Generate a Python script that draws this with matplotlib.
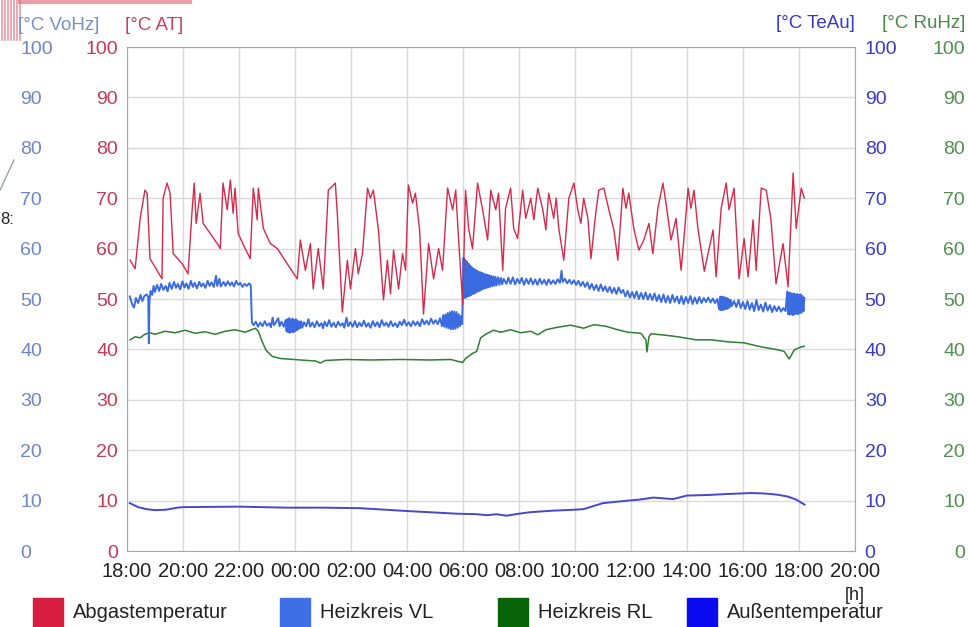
import matplotlib.pyplot as plt
from matplotlib.patches import Rectangle
from matplotlib.lines import Line2D

plt.rcParams['font.family'] = ['Liberation Sans', 'DejaVu Sans']

# hours since 18:00 of the first day
ag_t = [0.11, 0.29, 0.47, 0.64, 0.72, 0.82, 1.07, 1.25, 1.29, 1.43, 1.54, 1.65, 1.97, 2.18, 2.33, 2.40,
        2.47, 2.61, 2.72, 2.97, 3.26, 3.33, 3.43, 3.58, 3.69, 3.79, 3.86, 3.97, 4.22, 4.40, 4.51, 4.65,
        4.69, 4.87, 5.12, 5.37, 5.72, 6.08, 6.19, 6.37, 6.55, 6.65, 6.83, 7.01, 7.19, 7.44, 7.51, 7.69,
        7.87, 7.98, 8.16, 8.26, 8.41, 8.59, 8.69, 8.80, 8.98, 9.16, 9.30, 9.41, 9.52, 9.70, 9.84, 9.95,
        10.05, 10.20, 10.30, 10.45, 10.59, 10.77, 10.95, 11.13, 11.27, 11.45, 11.63, 11.74, 11.84, 11.99,
        12.09, 12.20, 12.34, 12.52, 12.70, 12.88, 12.99, 13.17, 13.27, 13.42, 13.52, 13.70, 13.81, 13.95,
        14.13, 14.24, 14.42, 14.53, 14.67, 14.85, 14.96, 15.06, 15.24, 15.33, 15.42, 15.60, 15.78, 15.96,
        16.10, 16.21, 16.31, 16.46, 16.57, 16.74, 16.85, 17.03, 17.21, 17.39, 17.53, 17.71, 17.82, 17.92,
        18.10, 18.28, 18.46, 18.64, 18.78, 18.96, 19.14, 19.25, 19.43, 19.61, 19.79, 19.89, 20.04, 20.14,
        20.25, 20.39, 20.62, 20.93, 21.04, 21.22, 21.40, 21.50, 21.68, 21.86, 22.04, 22.18, 22.36, 22.47,
        22.65, 22.83, 23.00, 23.18, 23.43, 23.61, 23.79, 23.90, 24.08, 24.19]
ag_v = [57.7, 56, 66, 71.6, 71, 58, 55.7, 54, 70, 73, 71, 59, 57, 55, 68, 73,
        65, 71, 65, 63, 60.7, 60, 73, 67.7, 73.6, 67, 72, 63, 60, 58, 72, 65.7,
        72, 64, 61, 60, 57, 54, 61.7, 55.7, 61, 52, 60, 52, 71.6, 73, 67, 47.4,
        57.7, 52, 60, 55, 59, 72, 70, 71.6, 63.7, 49.8, 57.7, 51, 59.7, 52, 59, 55.7,
        72.6, 69, 71, 63.7, 47, 61, 54, 60, 55.7, 72, 67.7, 71.6, 62, 49,
        71.6, 64, 60, 73, 67.7, 61.7, 71.6, 67.7, 71, 55.7, 68, 72, 64, 62,
        71.6, 66, 70, 65.7, 72, 67.7, 63.7, 71, 66, 70, 64, 57.7, 70, 73,
        67.7, 65, 70, 66, 58, 67, 71.6, 72, 67.7, 63.7, 57.7, 72, 68, 71,
        64, 59.7, 61.7, 65, 59, 68, 73, 69, 61.7, 66, 55.7, 62, 72, 68,
        71.6, 64, 55.5, 63.7, 54.4, 68, 73, 67.7, 72, 54, 62, 54.4, 65.7, 55.7,
        72, 71.6, 65.7, 53, 61, 52.4, 75, 64, 72, 70]

vl_t = [0.10, 0.18, 0.25, 0.32, 0.40, 0.48, 0.55, 0.62, 0.70, 0.76, 0.78, 0.80, 0.84, 0.90, 0.95, 1.00,
        1.07, 1.15, 1.22, 1.30, 1.38, 1.45, 1.52, 1.60, 1.68, 1.75, 1.82, 1.90, 1.98, 2.05, 2.12, 2.20,
        2.28, 2.35, 2.42, 2.50, 2.58, 2.65, 2.72, 2.80, 2.88, 2.95, 3.02, 3.10, 3.18, 3.22, 3.30, 3.35,
        3.45, 3.52, 3.60, 3.68, 3.75, 3.82, 3.90, 3.98, 4.05, 4.12, 4.20, 4.28, 4.36, 4.42, 4.46, 4.52,
        4.60, 4.68, 4.76, 4.84, 4.92, 5.00, 5.08, 5.14, 5.20, 5.25, 5.32, 5.40, 5.45, 5.52, 5.60, 5.66,
        5.70, 5.73, 5.76, 5.79, 5.82, 5.85, 5.88, 5.91, 5.94, 5.97, 6.00, 6.03, 6.06, 6.09, 6.12, 6.15,
        6.18, 6.22, 6.26, 6.32, 6.40, 6.48, 6.54, 6.62, 6.70, 6.78, 6.86, 6.94, 7.00, 7.06, 7.14, 7.22,
        7.30, 7.38, 7.46, 7.54, 7.62, 7.70, 7.76, 7.84, 7.90, 7.98, 8.06, 8.14, 8.22, 8.30, 8.38, 8.46,
        8.54, 8.62, 8.70, 8.78, 8.86, 8.94, 9.02, 9.10, 9.18, 9.26, 9.34, 9.42, 9.50, 9.58, 9.66, 9.74,
        9.82, 9.90, 9.98, 10.06, 10.14, 10.22, 10.30, 10.38, 10.46, 10.54, 10.62, 10.70, 10.78, 10.86,
        10.94, 11.02, 11.10, 11.18, 11.25, 11.29, 11.33, 11.37, 11.41, 11.45, 11.49, 11.53, 11.57, 11.61,
        11.65, 11.69, 11.73, 11.77, 11.81, 11.85, 11.89, 11.93, 11.97, 12.02, 12.05, 12.08, 12.11, 12.14,
        12.17, 12.20, 12.23, 12.26, 12.29, 12.32, 12.35, 12.38, 12.41, 12.44, 12.47, 12.50, 12.53, 12.56,
        12.59, 12.62, 12.65, 12.68, 12.71, 12.74, 12.77, 12.80, 12.83, 12.86, 12.89, 12.92, 12.96, 13.00,
        13.04, 13.08, 13.12, 13.16, 13.20, 13.25, 13.30, 13.35, 13.40, 13.45, 13.55, 13.62, 13.70, 13.78,
        13.86, 13.94, 14.02, 14.10, 14.18, 14.26, 14.34, 14.42, 14.50, 14.58, 14.66, 14.74, 14.82, 14.90,
        14.98, 15.06, 15.14, 15.22, 15.30, 15.38, 15.46, 15.52, 15.56, 15.64, 15.72, 15.80, 15.88, 15.96,
        16.04, 16.12, 16.20, 16.28, 16.36, 16.44, 16.52, 16.60, 16.68, 16.76, 16.84, 16.92, 17.00, 17.08,
        17.16, 17.24, 17.32, 17.40, 17.48, 17.56, 17.64, 17.72, 17.80, 17.88, 17.96, 18.04, 18.12, 18.20,
        18.28, 18.36, 18.44, 18.52, 18.60, 18.68, 18.76, 18.84, 18.92, 19.00, 19.08, 19.16, 19.24, 19.32,
        19.40, 19.48, 19.56, 19.64, 19.72, 19.80, 19.88, 19.96, 20.04, 20.12, 20.20, 20.28, 20.36, 20.44,
        20.52, 20.60, 20.68, 20.76, 20.84, 20.92, 21.00, 21.08, 21.15, 21.18, 21.21, 21.24, 21.27, 21.30,
        21.33, 21.36, 21.39, 21.42, 21.45, 21.48, 21.52, 21.56, 21.60, 21.68, 21.76, 21.84, 21.92, 22.00,
        22.08, 22.16, 22.24, 22.32, 22.40, 22.48, 22.56, 22.64, 22.72, 22.80, 22.88, 22.96, 23.04, 23.12,
        23.20, 23.28, 23.36, 23.44, 23.52, 23.58, 23.61, 23.64, 23.67, 23.70, 23.73, 23.76, 23.79, 23.82,
        23.85, 23.88, 23.91, 23.94, 23.97, 24.00, 24.03, 24.06, 24.09, 24.12, 24.16, 24.19]
vl_v = [50.5, 49.0, 48.3, 50.2, 49.2, 50.8, 49.6, 50.6, 50.9, 50.4, 41.2, 49.5, 51.6, 50.8, 52.6, 51.4,
        52.8, 51.6, 53.0, 51.8, 52.6, 51.5, 53.2, 52.0, 53.4, 52.2, 53.0, 51.9, 53.5, 52.3, 53.1, 52.0,
        53.6, 52.4, 53.2, 52.1, 53.4, 52.5, 53.1, 52.2, 53.6, 52.6, 53.3, 52.4, 54.6, 52.6, 54.0, 52.5,
        53.4, 52.6, 53.5, 52.7, 53.3, 52.5, 53.6, 52.8, 53.2, 52.4, 53.0, 52.6, 53.1, 52.7, 45.4, 44.8,
        45.5, 44.5, 45.3, 44.6, 45.6, 44.7, 45.2, 44.4, 46.3, 44.8, 45.4, 46.2, 44.6, 45.5, 44.5, 45.8,
        43.6, 46.0, 43.4, 46.2, 43.3, 45.9, 43.5, 46.1, 43.4, 45.8, 43.6, 46.0, 43.8, 45.7, 44.0, 45.5,
        44.2, 45.6, 44.3, 45.4, 44.6, 46.0, 44.5, 45.3, 44.4, 45.6, 44.6, 45.2, 44.2, 45.5, 44.6, 45.8,
        44.5, 45.3, 44.4, 45.5, 44.7, 45.2, 44.3, 46.3, 44.6, 45.4, 44.5, 45.6, 44.4, 45.3, 44.6, 45.7,
        44.5, 45.2, 44.3, 45.6, 44.6, 45.4, 44.4, 45.8, 44.7, 45.3, 44.5, 45.6, 44.6, 45.2, 44.4, 45.5,
        44.8, 45.9, 44.7, 45.4, 44.6, 45.6, 44.8, 45.5, 44.6, 46.0, 45.0, 45.7, 44.9, 46.1,
        45.1, 45.8, 45.0, 46.2, 44.6, 46.8, 44.5, 46.9, 44.3, 47.2, 44.2, 47.4, 44.0, 47.6,
        44.0, 47.5, 44.1, 47.4, 44.3, 47.0, 44.6, 46.6, 45.0, 58.2, 50.2, 57.8, 50.3, 57.4,
        50.5, 57.0, 50.6, 56.6, 50.8, 56.3, 51.0, 56.0, 51.1, 55.8, 51.3, 55.6, 51.5, 55.4,
        51.6, 55.3, 51.8, 55.2, 52.0, 55.0, 52.1, 54.9, 52.2, 54.8, 52.3, 54.7, 52.4, 54.6,
        52.5, 54.5, 52.6, 54.4, 52.7, 54.3, 52.8, 54.2, 52.9, 54.0, 53.0, 54.2, 53.0, 54.3,
        52.9, 54.0, 53.1, 54.2, 52.8, 54.0, 53.0, 54.1, 52.9, 53.9, 52.8, 54.0, 53.0, 53.8,
        52.8, 53.9, 53.0, 53.7, 53.0, 53.9, 53.2, 55.6, 53.4, 54.0, 53.1, 53.8, 53.0, 53.7,
        52.8, 53.6, 52.6, 53.4, 52.4, 53.3, 52.0, 53.0, 51.8, 52.8, 51.6, 52.9, 51.6, 52.5,
        51.4, 52.4, 51.2, 52.2, 51.0, 52.3, 51.2, 51.8, 50.5, 51.6, 50.3, 51.4, 50.2, 51.5,
        50.0, 51.2, 50.0, 51.3, 49.9, 51.0, 49.8, 51.1, 49.6, 50.8, 49.4, 50.9, 49.3, 50.6,
        49.2, 50.8, 49.4, 50.5, 49.1, 50.6, 49.0, 50.4, 49.2, 50.6, 49.0, 50.3, 49.1, 50.4,
        49.2, 50.2, 49.4, 50.3, 49.3, 50.1, 49.2, 50.0, 47.9, 50.4, 47.8, 50.5, 47.8, 50.4,
        47.9, 50.3, 48.0, 50.2, 48.1, 50.0, 48.3, 49.8, 48.6, 49.6, 48.4, 49.8, 48.2, 49.4,
        48.0, 49.6, 47.9, 49.2, 47.6, 49.8, 47.8, 48.9, 47.5, 49.3, 47.7, 48.8, 47.4, 48.6,
        47.6, 48.5, 47.5, 48.2, 47.6, 51.5, 47.0, 51.3, 46.9, 51.2, 47.0, 51.0, 46.8, 51.1,
        47.0, 50.9, 47.1, 51.0, 47.0, 50.8, 47.2, 50.9, 47.3, 50.6, 47.6, 50.2]

rl_t = [0.11, 0.29, 0.47, 0.64, 0.82, 1.00, 1.36, 1.72, 2.08, 2.43, 2.79, 3.15, 3.51, 3.86, 4.22, 4.58,
        4.69, 4.83, 4.97, 5.19, 5.47, 6.19, 6.73, 6.91, 7.08, 7.80, 8.69, 9.77, 10.84, 11.56, 11.84, 11.99,
        12.09, 12.34, 12.49, 12.63, 12.81, 13.09, 13.35, 13.70, 14.06, 14.42, 14.67, 14.96, 15.38, 15.85,
        16.31, 16.67, 17.10, 17.46, 17.89, 18.35, 18.53, 18.57, 18.64, 18.71, 19.25, 19.68, 20.32, 20.86,
        21.47, 22.04, 22.65, 23.26, 23.47, 23.65, 23.83, 24.08, 24.19]
rl_v = [41.9, 42.5, 42.3, 43.0, 43.3, 43.0, 43.6, 43.3, 43.8, 43.2, 43.5, 43.0, 43.6, 43.9, 43.4, 44.2,
        43.6, 41.5, 39.8, 38.6, 38.2, 37.9, 37.7, 37.3, 37.8, 38.0, 37.9, 38.0, 37.9, 38.0, 37.6, 37.4,
        38.2, 39.2, 39.6, 42.3, 43.0, 43.8, 43.4, 43.9, 43.3, 43.6, 42.9, 43.9, 44.4, 44.8,
        44.2, 44.9, 44.6, 44.0, 43.4, 43.2, 41.9, 39.5, 42.5, 43.1, 42.8, 42.5, 41.9, 41.9,
        41.5, 41.3, 40.5, 39.9, 39.6, 38.1, 39.9, 40.5, 40.6]

au_t = [0.1, 0.4, 0.7, 1.0, 1.4, 1.8, 2.0, 4.0, 5.7, 7.0, 8.3, 10.1, 11.8, 12.5, 12.85, 13.2, 13.55,
        14.0, 14.4, 15.2, 16.0, 16.3, 17.0, 17.9, 18.3, 18.8, 19.5, 20.0, 20.7, 21.4, 22.3, 22.8, 23.2,
        23.6, 23.9, 24.2]
au_v = [9.5, 8.7, 8.3, 8.1, 8.2, 8.6, 8.7, 8.8, 8.6, 8.6, 8.5, 7.9, 7.4, 7.3, 7.1, 7.3, 7.0,
        7.4, 7.7, 8.0, 8.2, 8.3, 9.5, 10.0, 10.2, 10.6, 10.3, 11.0, 11.1, 11.3, 11.5, 11.4, 11.2,
        10.8, 10.2, 9.2]

x_ticks = [0, 2, 4, 6, 8, 10, 12, 14, 16, 18, 20, 22, 24, 26]
x_labels = ['18:00', '20:00', '22:00', '00:00', '02:00', '04:00', '06:00',
            '08:00', '10:00', '12:00', '14:00', '16:00', '18:00', '20:00']
y_ticks = [0, 10, 20, 30, 40, 50, 60, 70, 80, 90, 100]
y_labels = [str(v) for v in y_ticks]

legend_names = ['Abgastemperatur', 'Heizkreis VL', 'Heizkreis RL', 'Außentemperatur']
legend_colors = ['#d81e40', '#3f6fe6', '#0a640a', '#0a0af0']

fig = plt.figure(figsize=(9.68, 6.27), dpi=100)
ax = fig.add_axes([127 / 968, 76 / 627, 728 / 968, 504 / 627])

ax.plot(au_t, au_v, color='#4646d0', lw=1.4)
ax.plot(rl_t, rl_v, color='#2f7f35', lw=1.1)
ax.plot(vl_t, vl_v, color='#3a6be0', lw=1.4)
ax.plot(ag_t, ag_v, color='#d42a4c', lw=1.0)

ax.set_xlim(0, 26)
ax.set_ylim(0, 100)
ax.set_xticks(x_ticks)
ax.set_xticklabels(x_labels)
ax.set_yticks(y_ticks)
ax.set_yticklabels(y_labels)
ax.grid(True, color='#dadada', lw=1)
ax.set_axisbelow(True)
for s in ax.spines.values():
    s.set_color('#a8a8a8')
ax.tick_params(axis='x', length=0, pad=8, labelsize=14.5, labelcolor='#222222')
ax.tick_params(axis='y', length=0, pad=6.5, labelsize=14, labelcolor='#c53a55')

# extra scales, all 0-100
axv = ax.twinx()
axv.set_ylim(0, 100)
axv.yaxis.tick_left()
axv.set_yticks(y_ticks)
axv.set_yticklabels(y_labels)
axv.spines['left'].set_position(('outward', 107 * 0.72))
axv.tick_params(axis='y', length=0, pad=0, labelsize=14, labelcolor='#6e86c8')

axt = ax.twinx()
axt.set_ylim(0, 100)
axt.set_yticks(y_ticks)
axt.set_yticklabels(y_labels)
axt.tick_params(axis='y', length=0, pad=7, labelsize=14, labelcolor='#3a3acb')

axr = ax.twinx()
axr.set_ylim(0, 100)
axr.set_yticks(y_ticks)
axr.set_yticklabels(y_labels)
axr.spines['right'].set_position(('outward', 110 * 0.72))
axr.tick_params(axis='y', length=0, pad=0, labelsize=14, labelcolor='#4f8f4f')

for a in (axv, axt, axr):
    for s in a.spines.values():
        s.set_visible(False)

# VoHz numbers start at the same x, RuHz numbers end at the same x
for t in axv.yaxis.get_major_ticks():
    t.label1.set_horizontalalignment('left')
for t in axr.yaxis.get_major_ticks():
    t.label2.set_horizontalalignment('right')

H = 627
fig.text(18 / 968, 1 - 26 / H, '[°C VoHz]', color='#7a8fcc', fontsize=13.5, va='center')
fig.text(125 / 968, 1 - 26 / H, '[°C AT]', color='#c8415a', fontsize=13.5, va='center')
fig.text(855 / 968, 1 - 24 / H, '[°C TeAu]', color='#3838c8', fontsize=13.5, va='center', ha='right')
fig.text(965 / 968, 1 - 24 / H, '[°C RuHz]', color='#4a8a4a', fontsize=13.5, va='center', ha='right')
fig.text(855 / 968, 1 - 596 / H, '[h]', color='#222222', fontsize=13, va='center', ha='center')

# legend row at the bottom
leg_x = [33, 280, 498, 687]
for x0, name, col in zip(leg_x, legend_names, legend_colors):
    fig.patches.append(Rectangle((x0 / 968, 0), 30 / 968, 29 / H, color=col,
                                 transform=fig.transFigure, figure=fig))
    fig.text((x0 + 40) / 968, 1 - 613 / H, name, fontsize=14.5, color='#222222', va='center')

# bits of the screenshot's neighbour window at the top left
for xs in [2, 5, 8, 11, 14, 17, 20]:
    fig.add_artist(Line2D([xs / 968, xs / 968], [1, 1 - 40 / H], color='#e07080', lw=1.2, alpha=0.7))
fig.add_artist(Line2D([20 / 968, 190 / 968], [1 - 2 / H, 1 - 2 / H], color='#e06070', lw=3, alpha=0.6))
fig.text(0, 1 - 220 / H, '8:', fontsize=12, color='#222222', va='center')
fig.add_artist(Line2D([0, 14 / 968], [1 - 190 / H, 1 - 160 / H], color='#9aa0b0', lw=1))

fig.savefig('out.png', dpi=100)
